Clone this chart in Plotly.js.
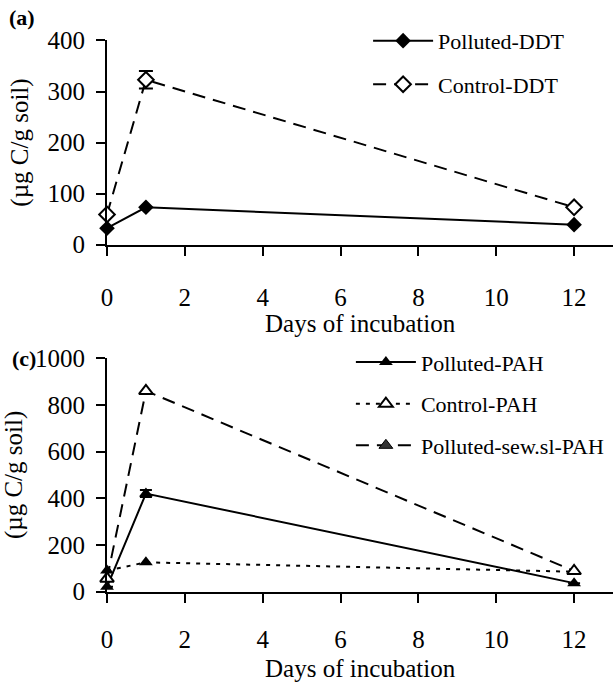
<!DOCTYPE html>
<html>
<head>
<meta charset="utf-8">
<script src="https://cdn.plot.ly/plotly-3.0.1.min.js"></script>
<style>html,body{margin:0;padding:0;background:#fff;}#chart{width:613px;height:684px;}</style>
</head>
<body>
<div id="chart"></div>
<script>
// ---- data ----
var days = [0, 1, 12];
var xTicks = [0, 2, 4, 6, 8, 10, 12];

// panel (a)
var pollutedDDT = [32, 73, 39];
var controlDDT = [59, 323, 73];
var controlDDTerr = [0, 17, 0];

// panel (c) (as drawn in the plot area)
var pollutedPAH = [20, 420, 36];
var pollutedPAHerr = [0, 15, 0];
var dashedPAH = [55, 860, 88];   // dashed line, open triangles
var dottedPAH = [90, 125, 85];   // dotted line, filled triangles

var legendA = ['Polluted-DDT', 'Control-DDT'];
var legendC = ['Polluted-PAH', 'Control-PAH', 'Polluted-sew.sl-PAH'];
var xTitle = 'Days of incubation';
var yTitle = '(µg C/g soil)';

var F = 'Liberation Serif';
var DASH = '13px,8px';
var DOT = '4px,6px';

var traces = [
  // panel (a)
  {x: days, y: pollutedDDT, xaxis: 'x', yaxis: 'y', mode: 'lines+markers', showlegend: false,
   line: {color: 'black', width: 2}, marker: {symbol: 'diamond', size: 12, color: 'black'}, cliponaxis: false},
  {x: days, y: controlDDT, xaxis: 'x', yaxis: 'y', mode: 'lines+markers', showlegend: false,
   error_y: {type: 'data', array: controlDDTerr, visible: true, color: 'black', thickness: 2, width: 7},
   line: {color: 'black', width: 2, dash: DASH},
   marker: {symbol: 'diamond', size: 12, color: 'white', line: {color: 'black', width: 2}}, cliponaxis: false},
  // panel (c)
  {x: days, y: dottedPAH, xaxis: 'x2', yaxis: 'y2', mode: 'lines+markers', showlegend: false,
   line: {color: 'black', width: 2, dash: DOT}, marker: {symbol: 'triangle-up', size: 12, color: 'black'}, cliponaxis: false},
  {x: days, y: pollutedPAH, xaxis: 'x2', yaxis: 'y2', mode: 'lines+markers', showlegend: false,
   error_y: {type: 'data', array: pollutedPAHerr, visible: true, color: 'black', thickness: 2, width: 6},
   line: {color: 'black', width: 2}, marker: {symbol: 'triangle-up', size: 12, color: 'black'}, cliponaxis: false},
  {x: days, y: dashedPAH, xaxis: 'x2', yaxis: 'y2', mode: 'lines+markers', showlegend: false,
   line: {color: 'black', width: 2, dash: DASH},
   marker: {symbol: 'triangle-up', size: 12, color: 'white', line: {color: 'black', width: 2}}, cliponaxis: false},
  // legend entries
  {x: [null], y: [null], xaxis: 'x', yaxis: 'y', name: legendA[0], legend: 'legend', legendgroup: 'a1', mode: 'lines+markers',
   line: {color: 'black', width: 2}, marker: {symbol: 'diamond', size: 12, color: 'black'}},
  {x: [null], y: [null], xaxis: 'x', yaxis: 'y', name: legendA[1], legend: 'legend', legendgroup: 'a2', mode: 'lines+markers',
   line: {color: 'black', width: 2, dash: DASH}, marker: {symbol: 'diamond', size: 12, color: 'white', line: {color: 'black', width: 2}}},
  {x: [null], y: [null], xaxis: 'x2', yaxis: 'y2', name: legendC[0], legend: 'legend2', legendgroup: 'c1', mode: 'lines+markers',
   line: {color: 'black', width: 2}, marker: {symbol: 'triangle-up', size: 12, color: 'black'}},
  {x: [null], y: [null], xaxis: 'x2', yaxis: 'y2', name: legendC[1], legend: 'legend2', legendgroup: 'c2', mode: 'lines+markers',
   line: {color: 'black', width: 2, dash: DOT}, marker: {symbol: 'triangle-up', size: 12, color: 'white', line: {color: 'black', width: 2}}},
  {x: [null], y: [null], xaxis: 'x2', yaxis: 'y2', name: legendC[2], legend: 'legend2', legendgroup: 'c3', mode: 'lines+markers',
   line: {color: 'black', width: 2, dash: DASH}, marker: {symbol: 'triangle-up', size: 12, color: '#333', line: {color: 'black', width: 1}}}
];

function xax(anchor, labelGap) {
  return {anchor: anchor, domain: [0, 1], range: [0, 13], tickvals: xTicks, ticktext: xTicks.map(String),
    showline: true, linewidth: 2, linecolor: 'black', ticks: 'outside', ticklen: 9, tickwidth: 2, tickcolor: 'black',
    showgrid: false, zeroline: false, ticklabelstandoff: labelGap,
    tickfont: {family: F, size: 25, color: 'black'}};
}
function yax(anchor, domain, range, dtick) {
  return {anchor: anchor, domain: domain, range: range, dtick: dtick, tick0: 0,
    showline: true, linewidth: 2, linecolor: 'black', ticks: 'outside', ticklen: 9, tickwidth: 2, tickcolor: 'black',
    showgrid: false, zeroline: false, ticklabelstandoff: 6,
    title: {text: yTitle, standoff: 12, font: {family: F, size: 25, color: 'black'}},
    tickfont: {family: F, size: 25, color: 'black'}};
}
function note(text, x, y, size, yanchor) {
  return {text: text, xref: 'paper', yref: 'paper', x: x, y: y, xanchor: 'center', yanchor: yanchor || 'middle',
    showarrow: false, font: {family: F, size: size, color: 'black'}};
}

var layout = {
  width: 613, height: 684,
  margin: {l: 107, r: 0, t: 0, b: 0},
  paper_bgcolor: 'white', plot_bgcolor: 'white',
  font: {family: F, size: 23, color: 'black'},
  xaxis: xax('y', 20),
  yaxis: yax('x', [0.6425, 0.9408], [0, 400], 100),
  xaxis2: xax('y2', 15),
  yaxis2: yax('x2', [0.1352, 0.4762], [0, 1000], 200),
  legend: {x: 0.516, y: 0.971, xanchor: 'left', yanchor: 'top', traceorder: 'grouped', tracegroupgap: 12,
    bgcolor: 'rgba(0,0,0,0)', font: {family: F, size: 22, color: 'black'}, itemwidth: 60},
  legend2: {x: 0.482, y: 0.501, xanchor: 'left', yanchor: 'top', traceorder: 'grouped', tracegroupgap: 10,
    bgcolor: 'rgba(0,0,0,0)', font: {family: F, size: 22, color: 'black'}, itemwidth: 60},
  annotations: [
    note('<b>(a)</b>', -0.168, 0.974, 22),
    note('<b>(c)</b>', -0.165, 0.4766, 22),
    note(xTitle, 0.5, 1 - 324 / 684, 25),
    note(xTitle, 0.5, 0, 25, 'bottom')
  ],
  showlegend: true
};

Plotly.newPlot('chart', traces, layout, {displayModeBar: false, staticPlot: true});
</script>
</body>
</html>
